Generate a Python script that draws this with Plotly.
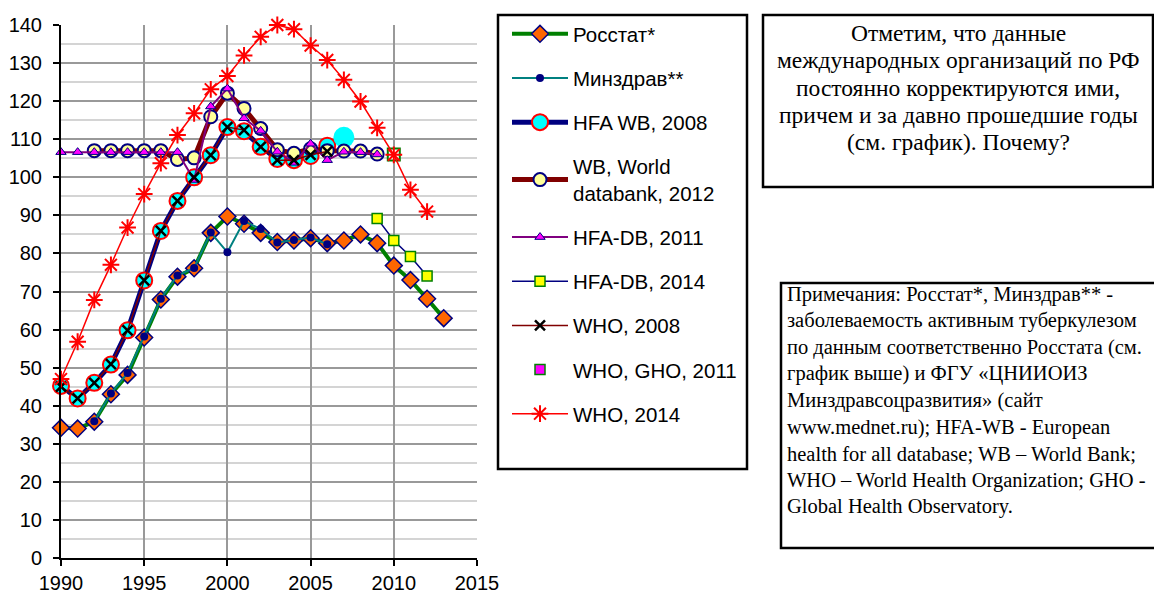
import plotly.graph_objects as go

# -----------------------------------------------------------------------
#                             DATA
# -----------------------------------------------------------------------

years_rosstat = list(range(1990, 2014))
rosstat = [34.2, 34.0, 35.8, 43.0, 48.1, 57.9, 67.9, 73.9, 76.1, 85.4, 89.7, 87.8,
           85.4, 83.0, 83.4, 84.0, 82.7, 83.4, 85.0, 82.7, 76.8, 73.0, 68.1, 63.0]

years_minzdrav = list(range(1992, 2007))
minzdrav = [35.9, 43.2, 48.6, 58.2, 68.1, 74.2, 76.2, 85.5, 80.3, 88.5, 86.4,
            82.9, 83.5, 84.2, 82.4]

years_hfa_wb_2008 = list(range(1990, 2008))
hfa_wb_2008 = [45.2, 41.9, 46.0, 50.8, 59.8, 72.9, 85.9, 93.8, 100.0, 105.8,
               113.2, 112.1, 108.0, 104.8, 104.5, 105.6, 108.3, 110.5]

years_wb_2012 = list(range(1992, 2010))
wb_2012 = [107.0, 107.0, 107.0, 107.0, 107.0, 104.7, 105.1, 115.9, 122.1, 118.1,
           112.8, 107.2, 106.3, 107.5, 107.0, 106.9, 106.9, 106.1]

years_hfa_db_2011 = list(range(1990, 2010))
hfa_db_2011 = [106.6, 106.6, 106.6, 106.6, 106.6, 106.6, 106.6, 106.6, 99.3, 118.6,
               123.3, 115.5, 112.2, 106.7, 103.8, 108.8, 104.5, 106.7, 106.6, 106.0]

years_hfa_db_2014 = [2009, 2010, 2011, 2012]
hfa_db_2014 = [89.2, 83.4, 79.2, 74.1]

years_who_2008 = list(range(1990, 2007))
who_2008 = [45.0, 41.9, 46.0, 50.9, 59.8, 72.9, 85.9, 93.8, 100.0, 105.8, 113.2,
            112.4, 108.0, 104.5, 104.5, 105.9, 106.8]

years_who_gho_2011 = [2010]
who_gho_2011 = [106.0]

years_who_2014 = list(range(1990, 2013))
who_2014 = [47.0, 56.8, 67.8, 77.0, 86.8, 95.6, 103.7, 111.1, 116.8, 123.1, 126.6,
            132.0, 136.9, 140.0, 138.9, 134.6, 130.8, 125.6, 119.9, 113.0, 105.9,
            96.7, 91.0]

x_ticks = [1990, 1995, 2000, 2005, 2010, 2015]

note_top = [
    "Отметим, что данные",
    "международных организаций по РФ",
    "постоянно корректируются ими,",
    "причем и за давно прошедшие годы",
    "(см. график). Почему?",
]

note_bottom = [
    "Примечания: Росстат*, Минздрав** -",
    "заболеваемость активным туберкулезом",
    "по данным соответственно Росстата (см.",
    "график выше) и ФГУ «ЦНИИОИЗ",
    "Минздравсоцразвития» (сайт",
    "www.mednet.ru); HFA-WB - European",
    "health for all database; WB – World Bank;",
    "WHO – World Health Organization; GHO -",
    "Global Health Observatory.",
]

# -----------------------------------------------------------------------
#                             LAYOUT HELPERS
# -----------------------------------------------------------------------

OFF = 8                              # default page margin around the figure
W, H = 1162 - OFF, 593 - OFF
PL, PR, PT, PB = 61, 477, 25, 558    # plot area, window pixels


def px_x(x):
    return (x - PL) / (PR - PL)


def px_y(y):
    return (PB - y) / (PB - PT)


# -----------------------------------------------------------------------
#                             GRAPH
# -----------------------------------------------------------------------

fig = go.Figure()

fig.add_trace(go.Scatter(
    x=years_rosstat, y=rosstat, name="Росстат*", mode="lines+markers",
    line=dict(color="#008000", width=4),
    marker=dict(symbol="diamond", size=13, color="#FF6600",
                line=dict(color="#000080", width=1.5))))

fig.add_trace(go.Scatter(
    x=years_minzdrav, y=minzdrav, name="Минздрав**", mode="lines+markers",
    line=dict(color="#008080", width=2),
    marker=dict(symbol="circle", size=8, color="#000080")))

# the last HFA WB point is drawn larger and without the red rim
hfa_sizes = [19 if yr == 2007 else 16 for yr in years_hfa_wb_2008]
hfa_rims = ["#00FFFF" if yr == 2007 else "#FF0000" for yr in years_hfa_wb_2008]
fig.add_trace(go.Scatter(
    x=years_hfa_wb_2008, y=hfa_wb_2008, name="HFA WB, 2008", mode="lines+markers",
    line=dict(color="#000080", width=5),
    marker=dict(symbol="circle", size=hfa_sizes, color="#00FFFF", opacity=1,
                line=dict(color=hfa_rims, width=2))))

fig.add_trace(go.Scatter(
    x=years_wb_2012, y=wb_2012, name="WB, World<br>databank, 2012", mode="lines+markers",
    line=dict(color="#800000", width=5),
    marker=dict(symbol="circle", size=13, color="#FFFF99",
                line=dict(color="#000080", width=2))))

fig.add_trace(go.Scatter(
    x=years_hfa_db_2011, y=hfa_db_2011, name="HFA-DB, 2011", mode="lines+markers",
    line=dict(color="#800080", width=2),
    marker=dict(symbol="triangle-up", size=9, color="#FF00FF",
                line=dict(color="#000080", width=1))))

fig.add_trace(go.Scatter(
    x=years_hfa_db_2014, y=hfa_db_2014, name="HFA-DB, 2014", mode="lines+markers",
    line=dict(color="#000080", width=1.5),
    marker=dict(symbol="square", size=10, color="#FFFF00",
                line=dict(color="#008000", width=1.5))))

fig.add_trace(go.Scatter(
    x=years_who_2008, y=who_2008, name="WHO, 2008", mode="lines+markers",
    line=dict(color="#800000", width=1.5),
    marker=dict(symbol="x-thin-open", size=10, color="#000000",
                line=dict(color="#000000", width=2.5))))

fig.add_trace(go.Scatter(
    x=years_who_gho_2011, y=who_gho_2011, name="WHO, GHO, 2011", mode="markers",
    showlegend=False,
    marker=dict(symbol="square", size=12, color="#FFFFFF",
                line=dict(color="#008000", width=2))))
fig.add_trace(go.Scatter(
    x=[None], y=[None], name="WHO, GHO, 2011", mode="markers",
    marker=dict(symbol="square", size=10, color="#FF00FF",
                line=dict(color="#008000", width=1.5))))

fig.add_trace(go.Scatter(
    x=years_who_2014, y=who_2014, name="WHO, 2014", mode="lines+markers",
    line=dict(color="#FF0000", width=1.5),
    marker=dict(symbol="asterisk-open", size=14, color="#FF0000",
                line=dict(color="#FF0000", width=2))))

for i, tr in enumerate(fig.data):
    tr.cliponaxis = False
    tr.legendgroup = "g%d" % i

axis_font = dict(family="Arial, Liberation Sans, sans-serif", size=20, color="#000000")

fig.update_layout(
    width=W, height=H, autosize=False,
    margin=dict(l=PL - OFF, r=W - (PR - OFF), t=PT - OFF, b=H - (PB - OFF),
                pad=0, autoexpand=False),
    paper_bgcolor="#FFFFFF", plot_bgcolor="#FFFFFF",
    font=axis_font,
    xaxis=dict(range=[1990, 2015], tickvals=x_ticks, showgrid=True,
               gridcolor="#999999", gridwidth=2, zeroline=False,
               showline=True, linecolor="#000000", linewidth=2,
               ticks="outside", ticklen=6, tickwidth=2, tickcolor="#000000",
               tickfont=axis_font, automargin=False),
    yaxis=dict(range=[0, 140], dtick=10, showgrid=True,
               gridcolor="#999999", gridwidth=2, zeroline=False,
               showline=True, linecolor="#000000", linewidth=2,
               ticks="outside", ticklen=6, tickwidth=2, tickcolor="#000000",
               tickfont=axis_font, ticklabelstandoff=7, automargin=False,
               minor=dict(dtick=5, showgrid=True, gridcolor="#D4D4D4", gridwidth=2)),
    legend=dict(x=px_x(507), y=px_y(14), xanchor="left", yanchor="top",
                bgcolor="rgba(0,0,0,0)", borderwidth=0, maxheight=590,
                font=dict(family="Arial, Liberation Sans, sans-serif", size=20.5, color="#000000"),
                tracegroupgap=14.5, itemwidth=56),
)

# legend frame and note boxes
box_line = dict(color="#000000", width=2.5)
fig.add_shape(type="rect", xref="paper", yref="paper",
              x0=px_x(498), x1=px_x(747), y0=px_y(469), y1=px_y(15), line=box_line)
fig.add_shape(type="rect", xref="paper", yref="paper",
              x0=px_x(763), x1=px_x(1153), y0=px_y(187), y1=px_y(15), line=box_line)
# bottom note box runs off the right edge of the page
fig.add_shape(type="path", xref="paper", yref="paper", line=box_line,
              path="M %f,%f L %f,%f L %f,%f L %f,%f" % (
                  px_x(1175), px_y(283), px_x(781), px_y(283),
                  px_x(781), px_y(548), px_x(1175), px_y(548)))

serif = "Times New Roman, Liberation Serif, serif"
for i, line in enumerate(note_top):
    fig.add_annotation(xref="paper", yref="paper", x=px_x(958), y=px_y(33 + 27.3 * i),
                       xanchor="center", yanchor="middle", showarrow=False, text=line,
                       font=dict(family=serif, size=23.5, color="#000000"))

for i, line in enumerate(note_bottom):
    fig.add_annotation(xref="paper", yref="paper", x=px_x(785), y=px_y(294 + 26.6 * i),
                       xanchor="left", yanchor="middle", showarrow=False, text=line,
                       font=dict(family=serif, size=20.5, color="#000000"))

fig.write_html("out.html")
